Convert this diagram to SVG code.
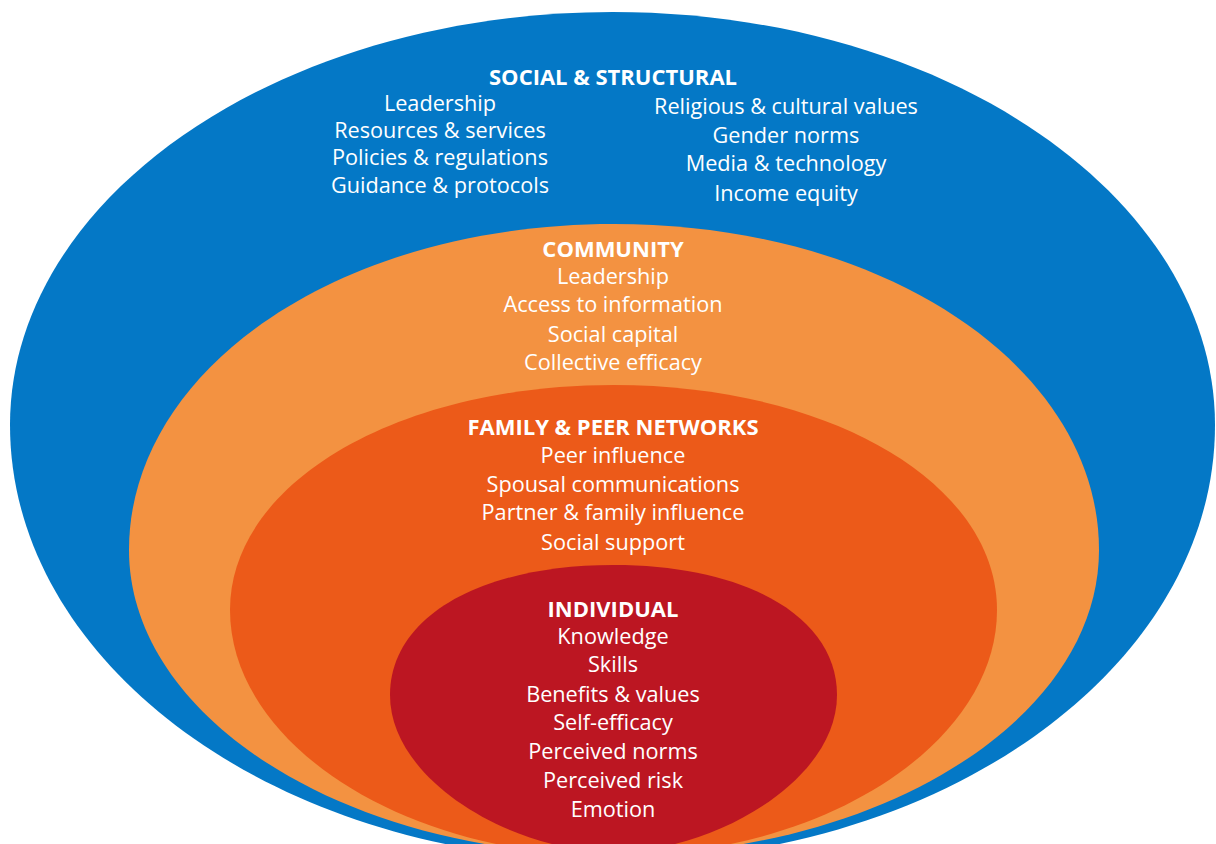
<svg xmlns="http://www.w3.org/2000/svg" width="1216" height="844" viewBox="0 0 1216 844">
<style>
text{font-family:"Open Sans","Noto Sans","Liberation Sans",sans-serif;fill:#ffffff;text-anchor:middle}
.t{font-size:22px;font-weight:bold}
.i{font-size:21.7px}
</style>
<rect width="1216" height="844" fill="#ffffff"/>
<g id="social-structural">
<path fill="#0478C6" d="M612.5,12 C945,12 1215,197 1215,425 C1215,666 945,861 612.5,861 C280,861 10,666 10,425 C10,197 280,12 612.5,12 Z"/>
<text class="t" x="613" y="85">SOCIAL &amp; STRUCTURAL</text>
<text class="i" x="440" y="111">Leadership</text>
<text class="i" x="440" y="138">Resources &amp; services</text>
<text class="i" x="440" y="165">Policies &amp; regulations</text>
<text class="i" x="440" y="193">Guidance &amp; protocols</text>
<text class="i" x="786" y="114">Religious &amp; cultural values</text>
<text class="i" x="786" y="143">Gender norms</text>
<text class="i" x="786" y="171">Media &amp; technology</text>
<text class="i" x="786" y="201">Income equity</text>
</g>
<g id="community">
<path fill="#F39241" d="M614,224 C890,224 1099,370 1099,550 C1099,718 882,855 614,855 C346,855 129,718 129,550 C129,370 338,224 614,224 Z"/>
<text class="t" x="613" y="257">COMMUNITY</text>
<text class="i" x="613" y="284">Leadership</text>
<text class="i" x="613" y="312">Access to information</text>
<text class="i" x="613" y="342">Social capital</text>
<text class="i" x="613" y="370">Collective efficacy</text>
</g>
<g id="family-peer">
<path fill="#EC5A19" d="M613.5,385 C830,385 997,483 997,610 C997,743 825,856 613.5,856 C402,856 230,743 230,610 C230,483 397,385 613.5,385 Z"/>
<text class="t" x="613" y="435">FAMILY &amp; PEER NETWORKS</text>
<text class="i" x="613" y="463">Peer influence</text>
<text class="i" x="613" y="492">Spousal communications</text>
<text class="i" x="613" y="520">Partner &amp; family influence</text>
<text class="i" x="613" y="550">Social support</text>
</g>
<g id="individual">
<path fill="#BC1622" d="M613.5,565 C747,565 837,617 837,695 C837,781 714,852 613.5,852 C513,852 390,781 390,695 C390,617 480,565 613.5,565 Z"/>
<text class="t" x="613" y="617">INDIVIDUAL</text>
<text class="i" x="613" y="644">Knowledge</text>
<text class="i" x="613" y="672">Skills</text>
<text class="i" x="613" y="702">Benefits &amp; values</text>
<text class="i" x="613" y="730">Self-efficacy</text>
<text class="i" x="613" y="759">Perceived norms</text>
<text class="i" x="613" y="788">Perceived risk</text>
<text class="i" x="613" y="817">Emotion</text>
</g>
<g id="connectors"/>
</svg>
